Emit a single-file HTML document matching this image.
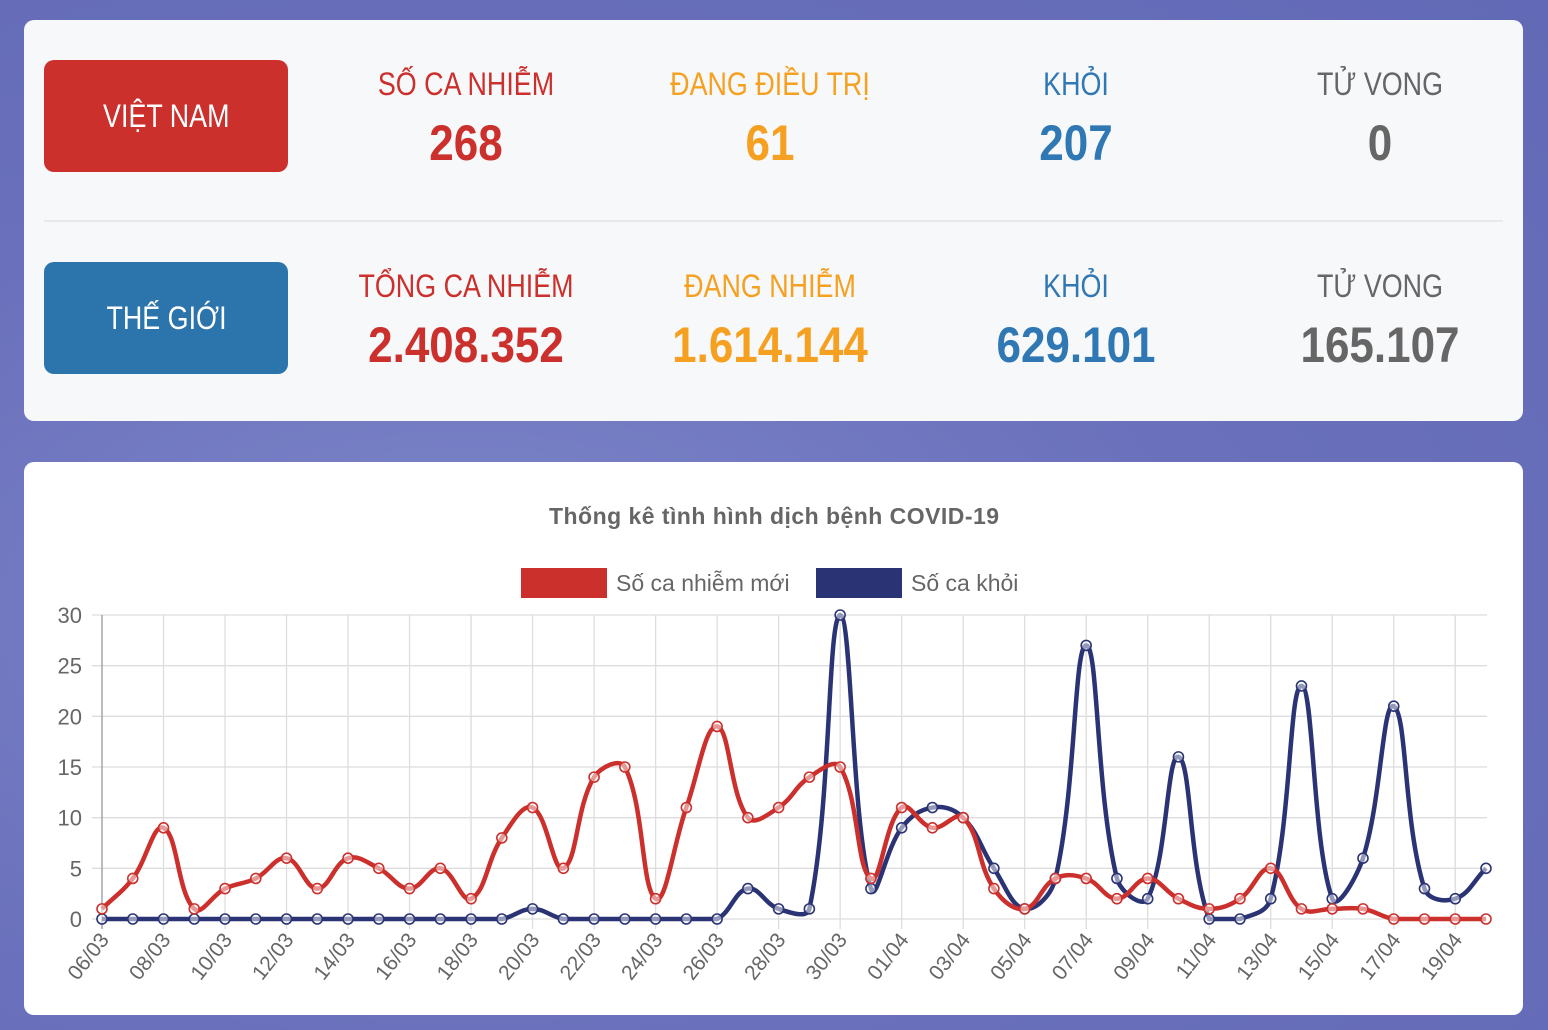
<!DOCTYPE html>
<html><head><meta charset="utf-8"><style>
html,body{margin:0;padding:0}
body{width:1548px;height:1030px;overflow:hidden;position:relative;background:#6b72bd;background:radial-gradient(ellipse at 30% 60%,#7d86c9 0%,#6a70bb 50%,#6269b6 100%);font-family:"Liberation Sans Narrow","Liberation Sans",sans-serif}
.card{position:absolute;left:24px;width:1499px;background:#f7f8fa;border-radius:10px}
.badge{position:absolute;left:20px;width:244px;height:112px;border-radius:10px;color:#fff;font-size:32px;display:flex;align-items:center;justify-content:center}
.badge span{display:inline-block;transform:scaleX(.84)}
.col{position:absolute;width:300px;text-align:center}
.lab{font-size:32px;line-height:32px;transform:scaleX(.84)}
.num{font-size:50px;font-weight:bold;line-height:46px;margin-top:20px;transform:scaleX(.88)}
.r{color:#cb302c}.o{color:#f5a020}.b{color:#2f78b4}.g{color:#666}
</style></head><body>
<div class="card" style="top:20px;height:401px">
 <div class="badge" style="top:40px;background:#cb302c"><span>VIỆT NAM</span></div>
 <div class="col r" style="left:292px;top:48px"><div class="lab">SỐ CA NHIỄM</div><div class="num">268</div></div>
 <div class="col o" style="left:596px;top:48px"><div class="lab">ĐANG ĐIỀU TRỊ</div><div class="num">61</div></div>
 <div class="col b" style="left:902px;top:48px"><div class="lab">KHỎI</div><div class="num">207</div></div>
 <div class="col g" style="left:1206px;top:48px"><div class="lab">TỬ VONG</div><div class="num">0</div></div>
 <div style="position:absolute;left:20px;right:20px;top:200px;height:2px;background:#e8e9ec"></div>
 <div class="badge" style="top:242px;background:#2c74ac"><span>THẾ GIỚI</span></div>
 <div class="col r" style="left:292px;top:250px"><div class="lab">TỔNG CA NHIỄM</div><div class="num">2.408.352</div></div>
 <div class="col o" style="left:596px;top:250px"><div class="lab">ĐANG NHIỄM</div><div class="num">1.614.144</div></div>
 <div class="col b" style="left:902px;top:250px"><div class="lab">KHỎI</div><div class="num">629.101</div></div>
 <div class="col g" style="left:1206px;top:250px"><div class="lab">TỬ VONG</div><div class="num">165.107</div></div>
</div>
<div class="card" style="top:462px;height:553px;background:#fff"></div>
<svg id="s" width="1548" height="1030" style="position:absolute;left:0;top:0" font-family="Liberation Sans, sans-serif"></svg>
<script>
var red=[1,4,9,1,3,4,6,3,6,5,3,5,2,8,11,5,14,15,2,11,19,10,11,14,15,4,11,9,10,3,1,4,4,2,4,2,1,2,5,1,1,1,0,0,0,0];
var blue=[0,0,0,0,0,0,0,0,0,0,0,0,0,0,1,0,0,0,0,0,0,3,1,1,30,3,9,11,10,5,1,4,27,4,2,16,0,0,2,23,2,6,21,3,2,5];
var labels=[];for(var d=6;d<=31;d++)labels.push((d<10?'0':'')+d+'/03');for(var d=1;d<=20;d++)labels.push((d<10?'0':'')+d+'/04');
var X0=102,DX=(1486-102)/45,Y0=919,DY=(919-615)/30;
var h='';
h+='<text x="774" y="524" text-anchor="middle" font-size="23" font-weight="bold" fill="#666" textLength="450">Thống kê tình hình dịch bệnh COVID-19</text>';
h+='<rect x="521" y="568" width="86" height="30" fill="#cb302c"/><text x="616" y="591" font-size="23" fill="#666">Số ca nhiễm mới</text>';
h+='<rect x="816" y="568" width="86" height="30" fill="#2a3474"/><text x="911" y="591" font-size="23" fill="#666">Số ca khỏi</text>';
for(var v=0;v<=30;v+=5){var y=Y0-v*DY;h+='<line x1="92" x2="1487" y1="'+y+'" y2="'+y+'" stroke="#ddd" stroke-width="1.3"/>';h+='<text x="82" y="'+(y+8)+'" text-anchor="end" font-size="22" fill="#666">'+v+'</text>';}
for(var i=0;i<46;i+=2){var x=X0+i*DX;h+='<line x1="'+x+'" x2="'+x+'" y1="615" y2="929" stroke="'+(i==0?'#999':'#ddd')+'" stroke-width="1.3"/>';h+='<text transform="translate('+(x+8)+',940) rotate(-52)" text-anchor="end" font-size="21" fill="#666">'+labels[i]+'</text>';}
function cl(y){return Math.max(615,Math.min(919,y));}
function path(data,col){var p=data.map(function(v,i){return[X0+i*DX,Y0-v*DY]});var t=0.4,s='M'+p[0][0]+','+p[0][1];
var cps=p.map(function(c,i){var pr=p[i-1]||c,nx=p[i+1]||c;var d01=Math.hypot(c[0]-pr[0],c[1]-pr[1]),d12=Math.hypot(nx[0]-c[0],nx[1]-c[1]);var s01=d01/(d01+d12||1),s12=d12/(d01+d12||1);var fa=t*s01,fb=t*s12;return[[c[0]-fa*(nx[0]-pr[0]),cl(c[1]-fa*(nx[1]-pr[1]))],[c[0]+fb*(nx[0]-pr[0]),cl(c[1]+fb*(nx[1]-pr[1]))]]});
for(var i=1;i<p.length;i++){s+=' C'+cps[i-1][1][0]+','+cps[i-1][1][1]+' '+cps[i][0][0]+','+cps[i][0][1]+' '+p[i][0]+','+p[i][1];}
var o='<path d="'+s+'" fill="none" stroke="'+col+'" stroke-width="4.5"/>';p.forEach(function(c){o+='<circle cx="'+c[0]+'" cy="'+c[1]+'" r="5" fill="rgba(255,255,255,0.5)" stroke="'+col+'" stroke-width="1.6"/>'});return o;}
h+=path(blue,'#2a3474');h+=path(red,'#cb302c');
document.getElementById('s').innerHTML=h;
</script>
</body></html>
